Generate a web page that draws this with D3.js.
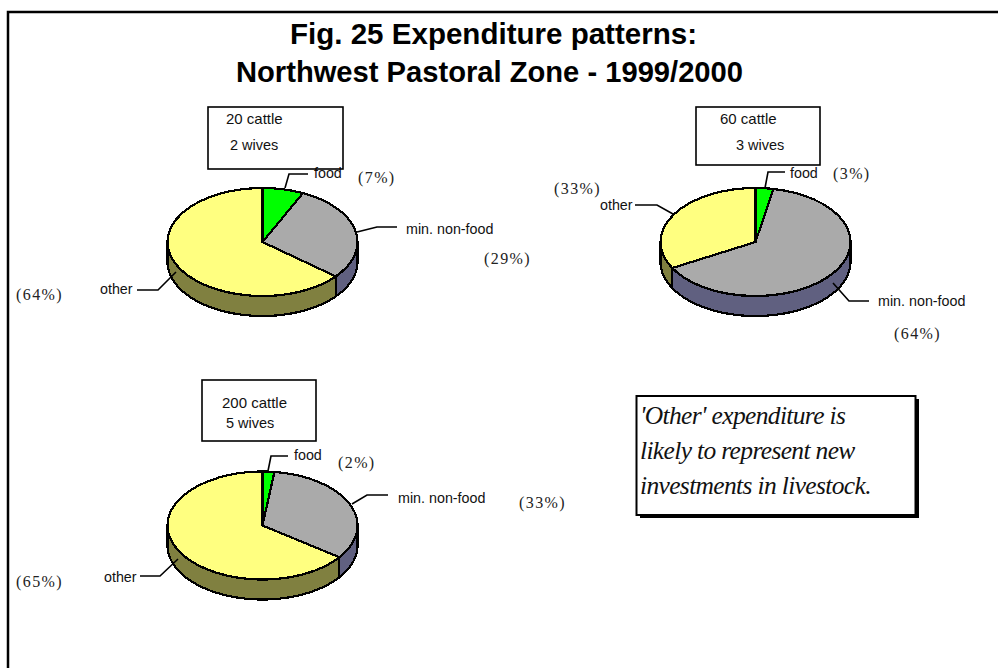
<!DOCTYPE html>
<html><head><meta charset="utf-8">
<script src="https://cdnjs.cloudflare.com/ajax/libs/d3/7.8.5/d3.min.js"></script>
<style>html,body{margin:0;padding:0;background:#fff}svg{display:block}</style>
</head><body><svg id="c" width="998" height="668"></svg>
<script>
const categories = ["food", "min. non-food", "other"];
const herdLabels = ["20 cattle", "60 cattle", "200 cattle"];
const wifeLabels = ["2 wives", "3 wives", "5 wives"];
const shares20 = [7, 29, 64];
const shares60 = [3, 64, 33];
const shares200 = [2, 33, 65];
const titleLines = ["Fig. 25 Expenditure patterns:", "Northwest Pastoral Zone - 1999/2000"];
const noteLines = ["'Other' expenditure is", "likely to represent new", "investments in livestock."];
const topColors = ["#00ff00", "#aaaaaa", "#ffff80"];
const sideColors = ["#008000", "#606080", "#808040"];

const panels = [
 {values:shares20, herd:0, wife:0, cx:262.5, cy:242,
  box:[208,107,135,62], herdPos:[226,124], wifePos:[230,150],
  leaders:["M285,188L289,174L308,174","M357,232L377,227L397,227","M176,272L158,290L137,290"],
  labels:[[314,178],[406,234],[100,294]], pct:[[358,183],[484,264],[16,300]]},
 {values:shares60, herd:1, wife:1, cx:755.5, cy:242,
  box:[696,107,124,58], herdPos:[720,124], wifePos:[736,150],
  leaders:["M765,188L768,172L785,172","M673,214L657,205L635,205","M833,283L849,301L869,301"],
  labels:[[790,178],[878,306],[600,210]], pct:[[833,179],[894,339],[554,194]]},
 {values:shares200, herd:2, wife:2, cx:262.5, cy:525.5,
  box:[202,380,114,61], herdPos:[222,408], wifePos:[226,428],
  leaders:["M268,471L271,456L288,456","M352,504L367,495L388,495","M178,559L160,576L140,576"],
  labels:[[294,460],[398,503],[104,582]], pct:[[338,468],[519,508],[16,587]]}
];

const svg = d3.select("#c");
svg.append("rect").attr("x",8).attr("y",12).attr("width",998).attr("height",680)
  .attr("fill","#fff").attr("stroke","#000").attr("stroke-width",2.5);

const titleX = [493.5, 489.5], titleW = [407, 507];
const title = svg.append("g").attr("font-family","Liberation Sans").attr("font-weight","bold")
  .attr("font-size",29.5).attr("text-anchor","middle").attr("fill","#000");
title.selectAll("text").data(titleLines).join("text")
  .attr("x",(d,i)=>titleX[i]).attr("y",(d,i)=>44+i*38)
  .attr("textLength",(d,i)=>titleW[i]).attr("lengthAdjust","spacingAndGlyphs").text(d=>d);

const rx = 95, ry = 54, depth = 20;
const rScale = d3.scaleLinear().domain([0,1]).range([0,rx]);
const pie = d3.pie().sort(null);
const arc = d3.arc().innerRadius(0).outerRadius(rScale(1));

function rimPoint(a){ return [rx*Math.sin(a), -ry*Math.cos(a)]; }
function wallPath(a0,a1){
  const s = Math.max(a0, Math.PI/2), e = Math.min(a1, Math.PI*1.5);
  if (e <= s) return null;
  const pts = d3.range(0,61).map(i=>rimPoint(s+(e-s)*i/60));
  const top = pts.map(p=>p.join(",")).join("L");
  const bot = pts.slice().reverse().map(p=>[p[0],p[1]+depth].join(",")).join("L");
  return "M"+top+"L"+bot+"Z";
}

panels.forEach(p=>{
  const g = svg.append("g").attr("transform",`translate(${p.cx},${p.cy})`);
  const arcs = pie(p.values);
  g.selectAll("path.wall").data(arcs).join("path").attr("class","wall")
    .attr("d",d=>wallPath(d.startAngle,d.endAngle))
    .attr("fill",(d,i)=>sideColors[i]).attr("stroke","#000").attr("stroke-width",2.2)
    .attr("shape-rendering","crispEdges");
  g.selectAll("path.top").data(arcs).join("path").attr("class","top")
    .attr("d",arc).attr("transform",`scale(1,${ry/rx})`)
    .attr("fill",(d,i)=>topColors[i]).attr("stroke","#000").attr("stroke-width",2.2)
    .attr("vector-effect","non-scaling-stroke").attr("shape-rendering","crispEdges");

  svg.selectAll(null).data(p.leaders).join("path").attr("d",d=>d)
    .attr("fill","none").attr("stroke","#000").attr("stroke-width",1.6);

  svg.selectAll(null).data(categories).join("text")
    .attr("x",(d,i)=>p.labels[i][0]).attr("y",(d,i)=>p.labels[i][1])
    .attr("font-family","Liberation Sans").attr("font-size",14.3).attr("fill","#111").text(d=>d);

  svg.append("rect").attr("x",p.box[0]).attr("y",p.box[1]).attr("width",p.box[2]).attr("height",p.box[3])
    .attr("fill","none").attr("stroke","#000").attr("stroke-width",1.6);
  svg.append("text").attr("x",p.herdPos[0]).attr("y",p.herdPos[1]).attr("font-family","Liberation Sans")
    .attr("font-size",15).attr("fill","#111").text(herdLabels[p.herd]);
  svg.append("text").attr("x",p.wifePos[0]).attr("y",p.wifePos[1]).attr("font-family","Liberation Sans")
    .attr("font-size",14.5).attr("fill","#111").text(wifeLabels[p.wife]);

  svg.selectAll(null).data(p.values).join("text")
    .attr("x",(d,i)=>p.pct[i][0]).attr("y",(d,i)=>p.pct[i][1])
    .attr("font-family","Liberation Serif").attr("font-size",16).attr("fill","#222")
    .attr("letter-spacing",1.4).text(d=>`(${d}%)`);
});

svg.append("rect").attr("x",640).attr("y",399).attr("width",279).attr("height",119).attr("fill","#000");
svg.append("rect").attr("x",636.5).attr("y",396).attr("width",279).attr("height",119)
  .attr("fill","#fff").attr("stroke","#000").attr("stroke-width",2);
svg.append("g").attr("font-family","Liberation Serif").attr("font-style","italic")
  .attr("font-size",25.5).attr("letter-spacing",-0.65).attr("fill","#111")
  .selectAll("text").data(noteLines).join("text")
  .attr("x",640).attr("y",(d,i)=>424+i*35).text(d=>d);
</script></body></html>
